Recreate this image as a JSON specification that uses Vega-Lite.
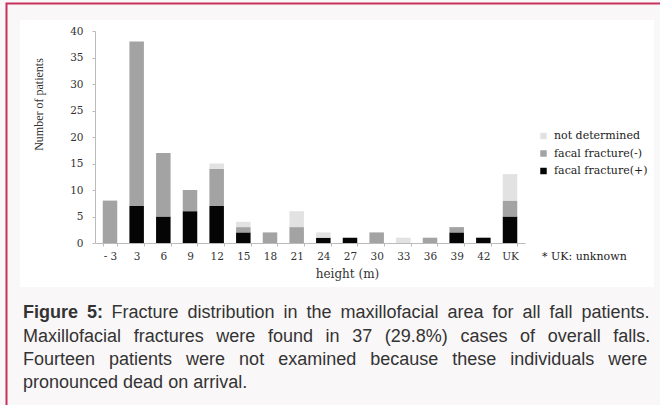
{
  "$schema": "https://vega.github.io/schema/vega-lite/v6.json",
  "width": 430,
  "height": 212,
  "autosize": {"type": "none"},
  "padding": {"left": 95, "top": 31, "right": 135, "bottom": 162},
  "background": "#faf7f8",
  "config": {
    "view": {"stroke": null},
    "axis": {"grid": false},
    "legend": {"zindex": 1}
  },
  "datasets": {
    "bars": [
      {"height": "- 3", "series": "facal fracture(-)", "count": 8},
      {"height": "3", "series": "facal fracture(+)", "count": 7},
      {"height": "3", "series": "facal fracture(-)", "count": 31},
      {"height": "6", "series": "facal fracture(+)", "count": 5},
      {"height": "6", "series": "facal fracture(-)", "count": 12},
      {"height": "9", "series": "facal fracture(+)", "count": 6},
      {"height": "9", "series": "facal fracture(-)", "count": 4},
      {"height": "12", "series": "facal fracture(+)", "count": 7},
      {"height": "12", "series": "facal fracture(-)", "count": 7},
      {"height": "12", "series": "not determined", "count": 1},
      {"height": "15", "series": "facal fracture(+)", "count": 2},
      {"height": "15", "series": "facal fracture(-)", "count": 1},
      {"height": "15", "series": "not determined", "count": 1},
      {"height": "18", "series": "facal fracture(-)", "count": 2},
      {"height": "21", "series": "facal fracture(-)", "count": 3},
      {"height": "21", "series": "not determined", "count": 3},
      {"height": "24", "series": "facal fracture(+)", "count": 1},
      {"height": "24", "series": "not determined", "count": 1},
      {"height": "27", "series": "facal fracture(+)", "count": 1},
      {"height": "30", "series": "facal fracture(-)", "count": 2},
      {"height": "33", "series": "not determined", "count": 1},
      {"height": "36", "series": "facal fracture(-)", "count": 1},
      {"height": "39", "series": "facal fracture(+)", "count": 2},
      {"height": "39", "series": "facal fracture(-)", "count": 1},
      {"height": "42", "series": "facal fracture(+)", "count": 1},
      {"height": "UK", "series": "facal fracture(+)", "count": 5},
      {"height": "UK", "series": "facal fracture(-)", "count": 3},
      {"height": "UK", "series": "not determined", "count": 5}
    ]
  },
  "layer": [
    {
      "data": {"values": [{}]},
      "mark": {"type": "rect", "fill": "#faf7f8", "stroke": "#c8325a", "strokeWidth": 2},
      "encoding": {"x": {"value": -88.5}, "y": {"value": -27.5}, "x2": {"value": 700}, "y2": {"value": 450}}
    },
    {
      "data": {"values": [{}]},
      "mark": {"type": "rect", "fill": "#ffffff"},
      "encoding": {"x": {"value": -75}, "y": {"value": -11}, "x2": {"value": 559}, "y2": {"value": 256}}
    },
    {
      "data": {"name": "bars"},
      "mark": {"type": "bar"},
      "encoding": {
        "x": {
          "field": "height", "type": "ordinal",
          "sort": ["- 3", "3", "6", "9", "12", "15", "18", "21", "24", "27", "30", "33", "36", "39", "42", "UK"],
          "scale": {"paddingInner": 0.456, "paddingOuter": 0.29},
          "axis": {
            "zindex": 2,
            "title": "height (m)", "labelAngle": 0, "tickBand": "extent", "tickSize": 3,
            "labelPadding": 5, "labelFont": "DejaVu Serif", "labelFontSize": 10.5, "labelColor": "#333",
            "domainColor": "#bbbbbb", "tickColor": "#bbbbbb",
            "titleFont": "DejaVu Serif", "titleFontSize": 12, "titleFontWeight": "normal", "titleColor": "#333",
            "titleX": 252, "titleY": 30, "titleAlign": "center", "titleBaseline": "middle"
          }
        },
        "y": {
          "field": "count", "type": "quantitative", "stack": "zero",
          "scale": {"domain": [0, 40]},
          "axis": {
            "zindex": 2,
            "values": [0, 5, 10, 15, 20, 25, 30, 35, 40], "title": "Number of patients",
            "tickSize": 3, "labelPadding": 9, "labelFont": "DejaVu Serif", "labelFontSize": 10.5, "labelColor": "#333",
            "domainColor": "#bbbbbb", "tickColor": "#bbbbbb",
            "titleFont": "Liberation Serif", "titleFontSize": 12, "titleFontWeight": "normal", "titleColor": "#333",
            "titleX": -57, "titleY": 73, "titleAngle": -90, "titleAlign": "center", "titleBaseline": "middle"
          }
        },
        "color": {
          "field": "series", "type": "nominal",
          "scale": {
            "domain": ["not determined", "facal fracture(-)", "facal fracture(+)"],
            "range": ["#e2e2e2", "#a3a3a3", "#050505"]
          },
          "legend": {
            "orient": "none", "legendX": 443, "legendY": 99.5, "title": null, "padding": 0,
            "symbolType": "square", "symbolSize": 42, "symbolStrokeWidth": 0,
            "labelFont": "DejaVu Serif", "labelFontSize": 11, "labelColor": "#222",
            "rowPadding": 5.5, "labelOffset": 5
          }
        },
        "order": {"field": "series", "sort": "ascending"}
      }
    },
    {
      "data": {"values": [{"note": "* UK: unknown"}]},
      "mark": {"type": "text", "align": "left", "baseline": "middle", "font": "DejaVu Serif", "fontSize": 11, "fill": "#222"},
      "encoding": {"text": {"field": "note"}, "x": {"value": 447}, "y": {"value": 226}}
    },
    {
      "data": {"values": [{"t": "Figure\u20025:"}]},
      "mark": {"type": "text", "align": "left", "baseline": "alphabetic", "font": "Liberation Sans", "fontSize": 18, "fontWeight": "bold", "fill": "#333"},
      "encoding": {"text": {"field": "t"}, "x": {"value": -72}, "y": {"value": 287.3}}
    },
    {
      "data": {"values": [{"t": "Fracture\u2002distribution\u2002in\u2002the\u2002maxillofacial\u2002area\u2002for\u2002all\u2002fall\u2002patients."}]},
      "mark": {"type": "text", "align": "left", "baseline": "alphabetic", "font": "Liberation Sans", "fontSize": 18, "fill": "#333"},
      "encoding": {"text": {"field": "t"}, "x": {"value": 16.4}, "y": {"value": 287.3}}
    },
    {
      "data": {"values": [{"t": "Maxillofacial\u2002\u2009fractures\u2002\u2009were\u2002\u2009found\u2002\u2009in\u2002\u200937\u2002\u2009(29.8%)\u2002\u2009cases\u2002\u2009of\u2002\u2009overall\u2002\u2009falls."}]},
      "mark": {"type": "text", "align": "left", "baseline": "alphabetic", "font": "Liberation Sans", "fontSize": 18, "fill": "#333"},
      "encoding": {"text": {"field": "t"}, "x": {"value": -72}, "y": {"value": 310.7}}
    },
    {
      "data": {"values": [{"t": "Fourteen \u2002patients \u2002were \u2002not \u2002examined \u2002because \u2002these \u2002individuals \u2002were"}]},
      "mark": {"type": "text", "align": "left", "baseline": "alphabetic", "font": "Liberation Sans", "fontSize": 18, "fill": "#333"},
      "encoding": {"text": {"field": "t"}, "x": {"value": -72}, "y": {"value": 334}}
    },
    {
      "data": {"values": [{"t": "pronounced dead on arrival."}]},
      "mark": {"type": "text", "align": "left", "baseline": "alphabetic", "font": "Liberation Sans", "fontSize": 18, "fill": "#333"},
      "encoding": {"text": {"field": "t"}, "x": {"value": -72}, "y": {"value": 356.7}}
    }
  ]
}
